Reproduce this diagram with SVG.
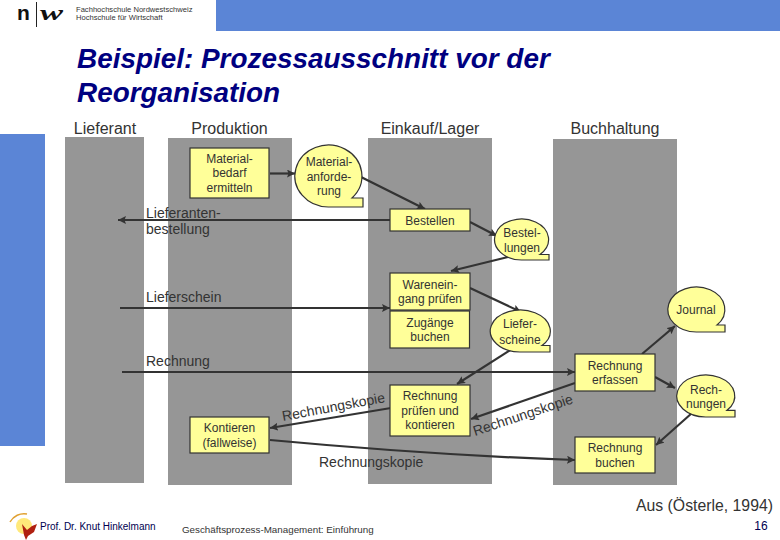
<svg xmlns="http://www.w3.org/2000/svg" width="780" height="540" viewBox="0 0 780 540">
<style>
text{font-family:"Liberation Sans",Arial,sans-serif;fill:#333}
.lane{fill:#969696}
.box,.bub{fill:#ffff99;stroke:#333;stroke-width:1.2}
.t{font-size:12px;text-anchor:middle}
.h{font-size:16px;text-anchor:middle}
.l{font-size:14px}
.c{fill:none;stroke:#333;stroke-width:2.2}
.a{marker-end:url(#ah)}
.title{font-size:27.900px;font-weight:bold;font-style:italic;fill:#000080}
</style>
<defs>
<marker id="ah" markerUnits="userSpaceOnUse" markerWidth="10" markerHeight="10" refX="8" refY="4" orient="auto"><path d="M0 0L8 4L0 8L1.500 4Z" fill="#333"/></marker>
</defs>
<rect width="780" height="540" fill="#fff"/>
<g id="header">
<rect x="216" y="0" width="564" height="31" fill="#5b85d6"/>
<rect x="0" y="134" width="45" height="312" fill="#5b85d6"/>
<text x="17" y="20" style="font-size:21px;font-weight:bold;fill:#111">n</text>
<line x1="36.500" y1="2" x2="36.500" y2="27" stroke="#222"/>
<text x="40" y="20" textLength="23" lengthAdjust="spacingAndGlyphs" style="font-family:'Liberation Serif',serif;font-size:21px;font-style:italic;font-weight:bold;fill:#111">w</text>
<text x="76" y="12" style="font-size:7.600px">Fachhochschule Nordwestschweiz</text>
<text x="76" y="20" style="font-size:7.600px">Hochschule für Wirtschaft</text>
<text x="77" y="68" class="title">Beispiel: Prozessausschnitt vor der</text>
<text x="77" y="102" class="title">Reorganisation</text>
</g>
<g id="lanes">
<rect class="lane" x="65" y="137" width="79" height="346"/>
<rect class="lane" x="168" y="138" width="124" height="347"/>
<rect class="lane" x="368" y="138" width="124" height="346"/>
<rect class="lane" x="553" y="139" width="124" height="346"/>
<text class="h" x="105" y="134">Lieferant</text>
<text class="h" x="229.500" y="134">Produktion</text>
<text class="h" x="430" y="134">Einkauf/Lager</text>
<text class="h" x="615" y="134">Buchhaltung</text>
</g>
<g id="connectors">
<path class="c a" d="M270 173.500H295"/>
<path class="c a" d="M361 177L425 209"/>
<path class="c a" d="M390 220H118"/>
<path class="c a" d="M470 222L497 236"/>
<path class="c a" d="M508 257L451 271"/>
<path class="c a" d="M470 288L521 312"/>
<path class="c a" d="M120 308H390"/>
<path class="c a" d="M122 372H575"/>
<path class="c a" d="M512 349L457 384"/>
<path class="c a" d="M642 354L675 326"/>
<path class="c a" d="M575 383L471 419"/>
<path class="c a" d="M655 377L675 388"/>
<path class="c a" d="M692 413L656 445"/>
<path class="c a" d="M391 408L270 428"/>
<path class="c a" d="M270 440Q430 455 575 460"/>
</g>
<g id="n1"><rect class="box" x="190" y="148" width="79" height="50"/><text class="t" x="229.500" y="163">Material-</text><text class="t" x="229.500" y="177">bedarf</text><text class="t" x="229.500" y="192">ermitteln</text></g>
<g id="n2"><path class="bub" d="M329 207A33.500 31 0 1 1 352 198H363V207Z"/><text class="t" x="329" y="166">Material-</text><text class="t" x="329" y="181">anforde-</text><text class="t" x="329" y="195">rung</text></g>
<g id="n3"><rect class="box" x="390" y="209" width="80" height="22"/><text class="t" x="430" y="225">Bestellen</text></g>
<g id="n4"><path class="bub" d="M522 260A27 20.500 0 1 1 540 254.500H549V260Z"/><text class="t" x="522" y="237">Bestel-</text><text class="t" x="522" y="252">lungen</text></g>
<g id="n5"><rect class="box" x="390" y="273" width="80" height="37"/><text class="t" x="430" y="289">Warenein-</text><text class="t" x="430" y="303">gang prüfen</text></g>
<g id="n6"><rect class="box" x="390" y="311" width="79.500" height="37"/><text class="t" x="430" y="327">Zugänge</text><text class="t" x="430" y="341">buchen</text></g>
<g id="n7"><path class="bub" d="M520 352A30 21 0 1 1 542 345.500H550V352Z"/><text class="t" x="520" y="328">Liefer-</text><text class="t" x="520" y="344">scheine</text></g>
<g id="n8"><path class="bub" d="M696.500 332A28.500 22.500 0 1 1 717 325H725V332Z"/><text class="t" x="696" y="314">Journal</text></g>
<g id="n9"><rect class="box" x="575" y="354" width="80" height="37"/><text class="t" x="615" y="370">Rechnung</text><text class="t" x="615" y="384">erfassen</text></g>
<g id="n10"><path class="bub" d="M706 417A29 21 0 1 1 727 410.300H735V417Z"/><text class="t" x="706" y="394">Rech-</text><text class="t" x="706" y="408">nungen</text></g>
<g id="n11"><rect class="box" x="390" y="385" width="80" height="51"/><text class="t" x="430" y="400">Rechnung</text><text class="t" x="430" y="415">prüfen und</text><text class="t" x="430" y="429">kontieren</text></g>
<g id="n12"><rect class="box" x="190" y="417" width="79" height="36"/><text class="t" x="229.500" y="432">Kontieren</text><text class="t" x="229.500" y="447">(fallweise)</text></g>
<g id="n13"><rect class="box" x="575" y="437" width="80" height="36"/><text class="t" x="615" y="452">Rechnung</text><text class="t" x="615" y="467">buchen</text></g>
<g id="labels">
<text class="l" x="146" y="218">Lieferanten-</text>
<text class="l" x="146" y="234">bestellung</text>
<text class="l" x="146" y="302">Lieferschein</text>
<text class="l" x="146" y="366">Rechnung</text>
<text class="l" x="0" y="0" transform="translate(283 421) rotate(-10.500)">Rechnungskopie</text>
<text class="l" x="0" y="0" transform="translate(475 436) rotate(-18.500)">Rechnungskopie</text>
<text class="l" x="319" y="467">Rechnungskopie</text>
<text x="636" y="511" style="font-size:15.800px">Aus (Österle, 1994)</text>
</g>
<g id="footer">
<circle cx="24" cy="526" r="8" fill="#ffe97a"/>
<path d="M10 522A16 16 0 0 1 27 514" fill="none" stroke="#e0a030" stroke-width="1.500"/>
<path d="M22 524L27 530L32 526L37 524L34 532L28 536L26 540L24 535Z" fill="#b02010"/>
<text x="40" y="530" style="font-size:10px;fill:#000050">Prof. Dr. Knut Hinkelmann</text>
<text x="182" y="533" style="font-size:9.800px">Geschäftsprozess-Management: Einführung</text>
<text x="761" y="530" text-anchor="middle" style="font-size:12px;fill:#000050">16</text>
</g>
</svg>
